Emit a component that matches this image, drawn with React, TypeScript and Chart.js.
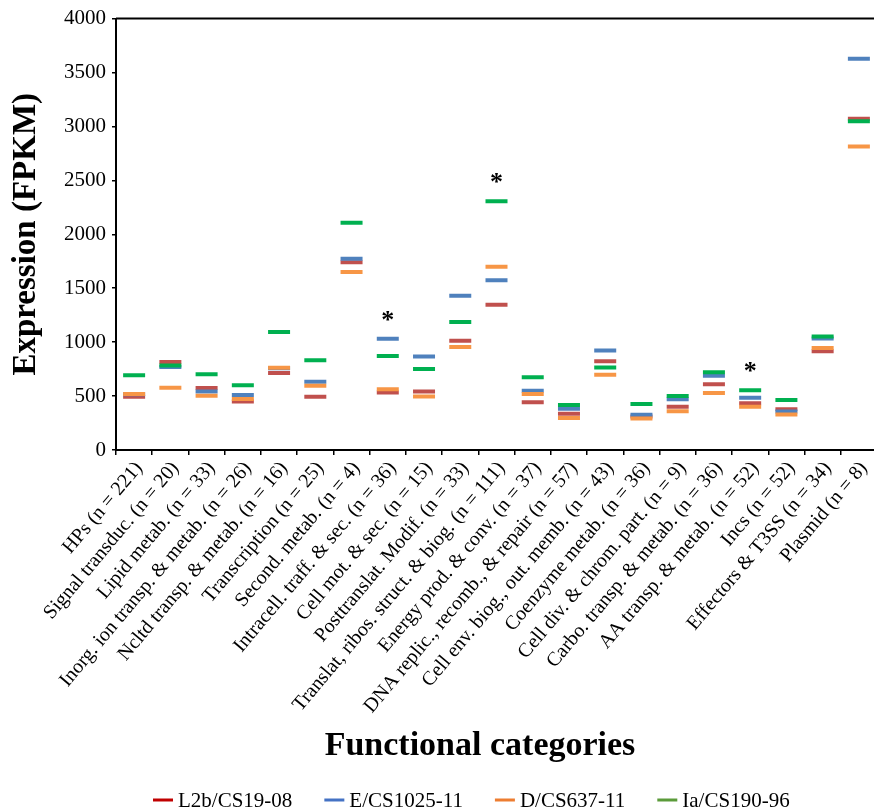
import React, { useEffect, useRef } from "react";
import { Chart, registerables } from "chart.js";

Chart.register(...registerables);

const categories = [
  "HPs (n = 221)",
  "Signal transduc. (n = 20)",
  "Lipid metab. (n = 33)",
  "Inorg. ion transp. & metab. (n = 26)",
  "Ncltd transp. & metab. (n = 16)",
  "Transcription (n = 25)",
  "Second. metab. (n = 4)",
  "Intracell. traff. & sec. (n = 36)",
  "Cell mot. & sec. (n = 15)",
  "Posttranslat. Modif. (n = 33)",
  "Translat, ribos. struct. & biog. (n = 111)",
  "Energy prod. & conv. (n = 37)",
  "DNA replic., recomb., & repair (n = 57)",
  "Cell env. biog., out. memb. (n = 43)",
  "Coenzyme metab. (n = 36)",
  "Cell div. & chrom. part. (n = 9)",
  "Carbo. transp. & metab. (n = 36)",
  "AA transp. & metab. (n = 52)",
  "Incs (n = 52)",
  "Effectors & T3SS (n = 34)",
  "Plasmid (n = 8)",
];

const seriesNames = ["L2b/CS19-08", "E/CS1025-11", "D/CS637-11", "Ia/CS190-96"];

const l2bValues = [494, 815, 574, 449, 714, 494, 1742, 534, 543, 1013, 1346, 442, 336, 824, 310, 400, 610, 433, 378, 915, 3072];
const eValues = [517, 770, 543, 510, 757, 632, 1773, 1031, 867, 1431, 1574, 549, 382, 922, 327, 470, 689, 485, 357, 1034, 3627];
const dValues = [519, 577, 503, 473, 763, 595, 1650, 564, 497, 955, 1700, 519, 296, 698, 293, 360, 528, 400, 330, 946, 2813];
const iaValues = [693, 784, 702, 601, 1095, 833, 2108, 872, 751, 1187, 2307, 675, 418, 766, 427, 501, 720, 555, 464, 1053, 3048];

const significant = [false, false, false, false, false, false, false, true, false, false, true, false, false, false, false, false, false, true, false, false, false];

const yTicks = [0, 500, 1000, 1500, 2000, 2500, 3000, 3500, 4000];

const markerColors = ["#C0504D", "#4F81BD", "#F79646", "#00B050"];
const legendColors = ["#C00000", "#4472C4", "#ED7D31", "#5B9B3A"];

const SERIF = "'Liberation Serif', 'Times New Roman', serif";

const decorPlugin = {
  id: "decor",
  afterDraw(chart: any) {
    const { ctx, chartArea, scales } = chart;
    ctx.save();
    // top frame line
    ctx.strokeStyle = "#000";
    ctx.lineWidth = 2;
    ctx.beginPath();
    ctx.moveTo(chartArea.left, chartArea.top);
    ctx.lineTo(chartArea.right + 12, chartArea.top);
    ctx.stroke();

    // significance asterisks
    ctx.fillStyle = "#000";
    ctx.font = `bold 26px ${SERIF}`;
    ctx.textAlign = "center";
    ctx.textBaseline = "alphabetic";
    const all = [l2bValues, eValues, dValues, iaValues];
    significant.forEach((s, i) => {
      if (!s) return;
      const maxV = Math.max(...all.map((a) => a[i]));
      const x = scales.x.getPixelForValue(i);
      const y = scales.y.getPixelForValue(maxV);
      ctx.fillText("*", x, y - 11);
    });

    // x axis title
    ctx.font = `bold 34px ${SERIF}`;
    ctx.textAlign = "center";
    ctx.fillText("Functional categories", 480, 755);

    // legend
    ctx.font = `21px ${SERIF}`;
    ctx.textAlign = "left";
    ctx.textBaseline = "middle";
    let lx = 153;
    const ly = 800;
    seriesNames.forEach((name, i) => {
      ctx.strokeStyle = legendColors[i];
      ctx.lineWidth = 3;
      ctx.beginPath();
      ctx.moveTo(lx, ly);
      ctx.lineTo(lx + 20, ly);
      ctx.stroke();
      ctx.fillStyle = "#000";
      ctx.fillText(name, lx + 25, ly + 1);
      lx += 25 + ctx.measureText(name).width + 32;
    });
    ctx.restore();
  },
};

export default function App() {
  const canvasRef = useRef<HTMLCanvasElement | null>(null);

  useEffect(() => {
    const canvas = canvasRef.current;
    if (!canvas) return;
    const seriesData = [l2bValues, eValues, dValues, iaValues];
    const chart = new Chart(canvas, {
      type: "line",
      data: {
        labels: categories,
        datasets: seriesData.map((vals, i) => ({
          label: seriesNames[i],
          data: vals,
          showLine: false,
          pointStyle: "line",
          pointRadius: 11,
          pointHoverRadius: 11,
          pointBorderWidth: 4,
          borderColor: markerColors[i],
          backgroundColor: markerColors[i],
          order: 4 - i,
        })),
      },
      options: {
        responsive: false,
        animation: false,
        devicePixelRatio: 1,
        events: [],
        layout: { padding: { top: 13, left: 0, right: 0, bottom: 0 } },
        plugins: {
          legend: { display: false },
          tooltip: { enabled: false },
          title: { display: false },
        },
        scales: {
          x: {
            type: "category",
            offset: true,
            grid: {
              offset: true,
              drawOnChartArea: false,
              drawTicks: true,
              tickLength: 5,
              color: "#000",
              lineWidth: 1.5,
            },
            border: { display: true, color: "#000", width: 2 },
            ticks: {
              autoSkip: false,
              maxRotation: 50,
              minRotation: 50,
              padding: 2,
              labelOffset: 5,
              color: "#000",
              font: { family: SERIF, size: 20 },
            },
            afterFit(scale: any) {
              scale.height = 361;
            },
          },
          y: {
            min: 0,
            max: 4000,
            afterBuildTicks(scale: any) {
              scale.ticks = yTicks.map((v) => ({ value: v }));
            },
            grid: {
              drawOnChartArea: false,
              drawTicks: true,
              tickLength: 4,
              color: "#000",
              lineWidth: 1.5,
            },
            border: { display: true, color: "#000", width: 2 },
            ticks: {
              padding: 6,
              color: "#000",
              font: { family: SERIF, size: 21 },
              callback: (v: any) => String(v),
            },
            title: {
              display: true,
              text: "Expression (FPKM)",
              color: "#000",
              font: { family: SERIF, size: 33, weight: "bold" },
              padding: { top: 7, bottom: 0 },
            },
            afterFit(scale: any) {
              scale.width = 116;
            },
          },
        },
      },
      plugins: [decorPlugin],
    } as any);
    return () => {
      chart.destroy();
    };
  }, []);

  return (
    <div
      style={{
        position: "fixed",
        left: 0,
        top: 0,
        width: 874,
        height: 811,
        overflow: "hidden",
        background: "#fff",
      }}
    >
      <canvas ref={canvasRef} width={892} height={811} style={{ display: "block" }} />
    </div>
  );
}
